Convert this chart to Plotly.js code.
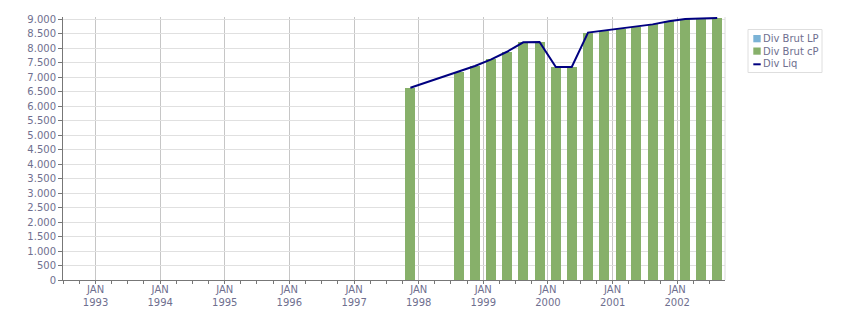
<!DOCTYPE html>
<html>
<head>
<meta charset="utf-8">
<script src="https://cdn.plot.ly/plotly-3.0.1.min.js"></script>
<style>
html,body{margin:0;padding:0;background:#fff;}
#chart{width:851px;height:313px;}
</style>
</head>
<body>
<div id="chart"></div>
<script>
// Quarter dates of the dividend bars
const dates = ["1997-11-15","1998-08-15","1998-11-15","1999-02-15","1999-05-15","1999-08-15","1999-11-15",
  "2000-02-15","2000-05-15","2000-08-15","2000-11-15","2001-02-15","2001-05-15","2001-08-15","2001-11-15",
  "2002-02-15","2002-05-15","2002-08-15"];
const divBrutLP = [0,0,0,0,0,0,0,0,0,0,0,0,0,0,0,0,0,0];
const divBrutCP = [6630,7180,7380,7610,7870,8195,8205,7345,7345,8530,8600,8670,8740,8815,8920,9000,9015,9035];
const divLiq   = [6630,7180,7380,7610,7870,8195,8205,7345,7345,8530,8600,8670,8740,8815,8920,9000,9015,9035];
const tickVals = ["1993-01-01","1994-01-01","1995-01-01","1996-01-01","1997-01-01","1998-01-01","1999-01-01","2000-01-01","2001-01-01","2002-01-01"];
const tickText = ["JAN<br>1993","JAN<br>1994","JAN<br>1995","JAN<br>1996","JAN<br>1997","JAN<br>1998","JAN<br>1999","JAN<br>2000","JAN<br>2001","JAN<br>2002"];
const seriesNames = ["Div Brut LP","Div Brut cP","Div Liq"];
const seriesColors = ["#7bb3d6","#87b06a","#000080"];

const barW = 57*86400000;
const txt = '#6f6f8f';
const data = [
  {type:'bar', name:seriesNames[0], x:dates, y:divBrutLP, width:barW, marker:{color:seriesColors[0]}},
  {type:'bar', name:seriesNames[1], x:dates, y:divBrutCP, width:barW, marker:{color:seriesColors[1]}},
  {type:'scatter', mode:'lines', name:seriesNames[2], x:dates, y:divLiq, line:{color:seriesColors[2], width:2}}
];

// Legend drawn as a small box beside the plot (pixel -> paper helpers)
const L = 63, R = 725, T = 17, B = 280;
const px = v => (v - L) / (R - L);
const py = v => (B - v) / (B - T);
const shapes = [
  {type:'line', xref:'paper', yref:'paper', x0:1, x1:1, y0:0, y1:1, line:{color:'#dcdcdc', width:1}},
  {type:'rect', xref:'paper', yref:'paper', x0:px(748), x1:px(822), y0:py(72.5), y1:py(29.5), line:{color:'#dedede', width:1}, fillcolor:'rgba(0,0,0,0)'},
  {type:'rect', xref:'paper', yref:'paper', x0:px(753.3), x1:px(760.7), y0:py(42.3), y1:py(35), line:{width:0}, fillcolor:seriesColors[0]},
  {type:'rect', xref:'paper', yref:'paper', x0:px(753.3), x1:px(760.7), y0:py(54.7), y1:py(47.5), line:{width:0}, fillcolor:seriesColors[1]},
  {type:'line', xref:'paper', yref:'paper', x0:px(753.3), x1:px(760.7), y0:py(64.3), y1:py(64.3), line:{color:seriesColors[2], width:2}}
];
const rowsY = [38.7, 51.3, 64.0];
const annotations = seriesNames.map((n, i) => ({
  xref:'paper', yref:'paper', x:px(761.5), y:py(rowsY[i]), xanchor:'left', yanchor:'middle',
  text:n, showarrow:false, borderpad:0, font:{family:'DejaVu Sans', size:10, color:txt}
}));

const layout = {
  width:851, height:313,
  margin:{l:L, r:851-R, t:T, b:313-B, autoexpand:false},
  paper_bgcolor:'#fff', plot_bgcolor:'#fff',
  barmode:'stack',
  separators:',.',
  font:{family:'DejaVu Sans', size:10, color:txt},
  showlegend:false,
  xaxis:{type:'date', range:['1992-07-01','2002-09-28'], tickmode:'array', tickvals:tickVals, ticktext:tickText,
    showgrid:true, gridcolor:'#c6c6c6', gridwidth:1, ticks:'', showline:true, linecolor:'#777', linewidth:1,
    tickfont:{family:'DejaVu Sans', size:10, color:txt}, zeroline:false,
    minor:{dtick:'M3', tick0:'1992-01-01', ticks:'outside', ticklen:3, tickcolor:'#777', showgrid:false}},
  yaxis:{range:[0,9069], tickmode:'linear', tick0:0, dtick:500, tickformat:',d', showgrid:true, gridcolor:'#e0e0e0',
    ticks:'outside', ticklen:4, tickcolor:'#777', showline:true, linecolor:'#777', linewidth:1, zeroline:false,
    tickfont:{family:'DejaVu Sans', size:10, color:txt}},
  shapes:shapes,
  annotations:annotations
};
Plotly.newPlot('chart', data, layout, {displayModeBar:false, staticPlot:true});
</script>
</body>
</html>
